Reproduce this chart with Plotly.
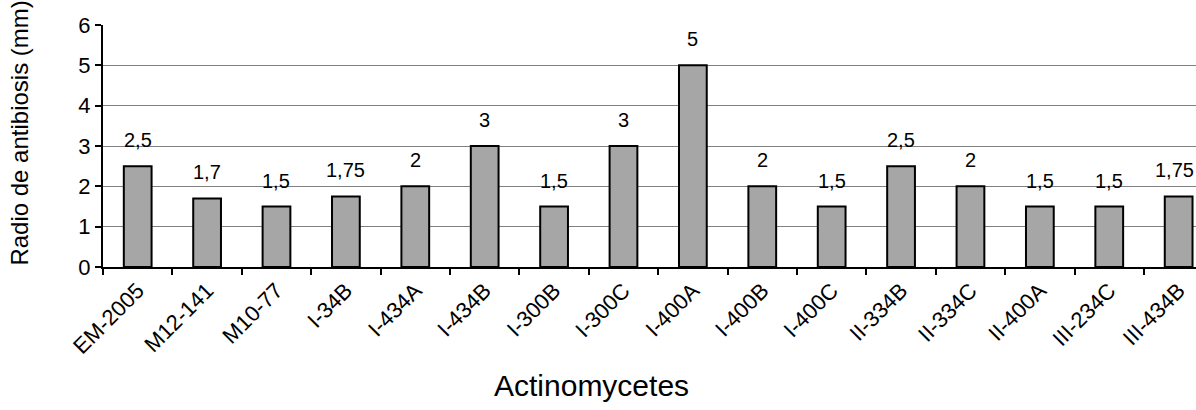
import plotly.graph_objects as go

categories = ["EM-2005", "M12-141", "M10-77", "I-34B", "I-434A", "I-434B", "I-300B",
              "I-300C", "I-400A", "I-400B", "I-400C", "II-334B", "II-334C", "II-400A",
              "III-234C", "III-434B"]
values = [2.5, 1.7, 1.5, 1.75, 2, 3, 1.5, 3, 5, 2, 1.5, 2.5, 2, 1.5, 1.5, 1.75]
y_ticks = [0, 1, 2, 3, 4, 5, 6]

labels = [("%g" % v).replace(".", ",") for v in values]

FONT = "Liberation Sans, Arial, sans-serif"

fig = go.Figure()
fig.add_trace(go.Bar(
    x=categories, y=values,
    marker=dict(color="#a6a6a6", line=dict(color="black", width=2)),
    width=0.4,
    hoverinfo="skip",
))

n = len(categories)
for i, (c, v, t) in enumerate(zip(categories, values, labels)):
    fig.add_annotation(x=c, y=v, text=t, showarrow=False, yanchor="middle",
                       xshift=(-4 if i == n - 1 else 0),
                       yshift=26, font=dict(family=FONT, size=20, color="black"))

# axis titles, placed like in the reference
fig.add_annotation(xref="paper", yref="paper", x=0.447, y=-0.488,
                   text="Actinomycetes", showarrow=False,
                   xanchor="center", yanchor="middle",
                   font=dict(family=FONT, size=30, color="black"))
fig.add_annotation(xref="paper", yref="paper", x=-0.076, y=0.555,
                   text="Radio de antibiosis (mm)", showarrow=False, textangle=-90,
                   xanchor="center", yanchor="middle",
                   font=dict(family=FONT, size=24, color="black"))

fig.update_layout(
    width=1196, height=410,
    margin=dict(l=103, r=0, t=25, b=143),
    paper_bgcolor="white", plot_bgcolor="white",
    showlegend=False,
    font=dict(family=FONT, color="black"),
    xaxis=dict(
        type="category",
        range=[-0.5, 15.25],
        automargin=False,
        tickangle=-45,
        tickson="boundaries",
        ticks="outside", ticklen=6, tickwidth=2, tickcolor="black",
        showline=True, linecolor="black", linewidth=2,
        showgrid=False,
        tickfont=dict(family=FONT, size=22, color="black"),
    ),
    yaxis=dict(
        range=[0, 6],
        automargin=False,
        tickvals=y_ticks,
        ticks="outside", ticklen=6, tickwidth=2, tickcolor="black",
        showline=True, linecolor="black", linewidth=2,
        showgrid=True, gridcolor="#808080", gridwidth=1,
        zeroline=False,
        tickfont=dict(family=FONT, size=22, color="black"),
    ),
)

fig.write_html("out.html", config={"displayModeBar": False},
               post_script="document.body.style.margin='0';")
